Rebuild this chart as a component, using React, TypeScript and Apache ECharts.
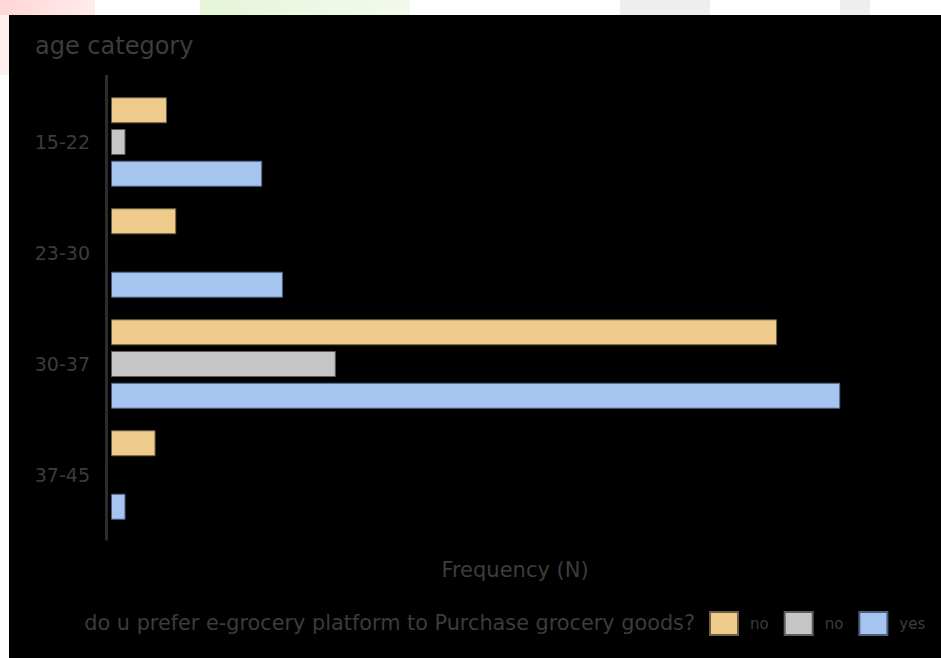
import React, { useEffect, useRef } from 'react';
import * as echarts from 'echarts';

const categories = ['15-22', '23-30', '30-37', '37-45'];
const noOrange = [5.4, 6.3, 64.3, 4.3];
const noGray: (number | null)[] = [1.4, null, 21.7, null];
const yesBlue = [14.6, 16.6, 70.4, 1.4];
const seriesKeys = ['s0', 's1', 's2'];
const legendLabels = ['no', 'no', 'yes'];
const seriesColors = ['#f0cc8c', '#c6c6c6', '#a6c4f0'];
const borderColors = ['#6e5f43', '#5e5e5e', '#4d5f7d'];
const legendTitle = 'do u prefer e-grocery platform to Purchase grocery goods?';
const yAxisTitle = 'age category';
const xAxisTitle = 'Frequency (N)';

const TEXT = '#3c3c3c';
const FONT = 'DejaVu Sans';

export default function App() {
  const ref = useRef<HTMLDivElement>(null);
  useEffect(() => {
    if (!ref.current) return;
    const chart = echarts.init(ref.current, undefined, { renderer: 'svg' });
    const seriesData = [noOrange, noGray, yesBlue];
    chart.setOption({
      animation: false,
      backgroundColor: '#000000',
      textStyle: { fontFamily: FONT },
      title: {
        text: yAxisTitle,
        left: 26,
        top: 19,
        padding: 0,
        textStyle: { color: TEXT, fontSize: 24, fontWeight: 'normal', fontFamily: FONT },
      },
      grid: { left: 102, right: 22, top: 71.5, height: 444 },
      xAxis: {
        type: 'value',
        min: 0,
        max: 78,
        name: xAxisTitle,
        nameLocation: 'middle',
        nameGap: 29,
        nameTextStyle: { color: TEXT, fontSize: 21, fontFamily: FONT },
        axisLine: { show: false },
        axisTick: { show: false },
        axisLabel: { show: false },
        splitLine: { show: false },
      },
      yAxis: {
        type: 'category',
        data: categories,
        inverse: true,
        axisLine: { show: false },
        axisTick: { show: false },
        axisLabel: { color: TEXT, fontSize: 19, margin: 21, fontFamily: FONT },
        splitLine: { show: false },
      },
      legend: {
        left: 700,
        top: 596,
        padding: 0,
        itemWidth: 28,
        itemHeight: 23,
        itemGap: 15,
        icon: 'rect',
        selectedMode: false,
        data: seriesKeys,
        formatter: (name: string) => legendLabels[seriesKeys.indexOf(name)],
        textStyle: { color: TEXT, fontSize: 15, fontFamily: FONT, padding: [0, 0, 0, 7] },
      },
      graphic: [
        {
          type: 'line',
          shape: { x1: 97.5, y1: 60, x2: 97.5, y2: 525.6 },
          style: { stroke: '#2b2b2b', lineWidth: 3 },
        },
        {
          type: 'text',
          x: 686,
          y: 607.5,
          style: {
            text: legendTitle,
            fill: TEXT,
            fontSize: 20.8,
            fontFamily: FONT,
            align: 'right',
            verticalAlign: 'middle',
          },
        },
      ],
      series: seriesKeys.map((key, i) => ({
        name: key,
        type: 'bar',
        data: seriesData[i],
        barWidth: 26,
        barGap: '22%',
        itemStyle: { color: seriesColors[i], borderColor: borderColors[i], borderWidth: 1 },
      })),
    });
    return () => chart.dispose();
  }, []);

  return (
    <div style={{ position: 'fixed', left: 0, top: 0, width: 941, height: 658, background: '#ffffff', overflow: 'hidden' }}>
      <div style={{ position: 'absolute', left: 0, top: 0, width: 95, height: 15, background: 'linear-gradient(90deg, #ffd6d6, #ffecec)' }} />
      <div style={{ position: 'absolute', left: 0, top: 15, width: 9, height: 60, background: '#fff0f0' }} />
      <div style={{ position: 'absolute', left: 200, top: 0, width: 210, height: 15, background: 'linear-gradient(90deg, #e6f5d8, #f3faec)' }} />
      <div style={{ position: 'absolute', left: 620, top: 0, width: 90, height: 15, background: '#eeeeee' }} />
      <div style={{ position: 'absolute', left: 840, top: 0, width: 30, height: 15, background: '#eeeeee' }} />
      <div ref={ref} style={{ position: 'absolute', left: 9, top: 15, width: 932, height: 643 }} />
    </div>
  );
}
